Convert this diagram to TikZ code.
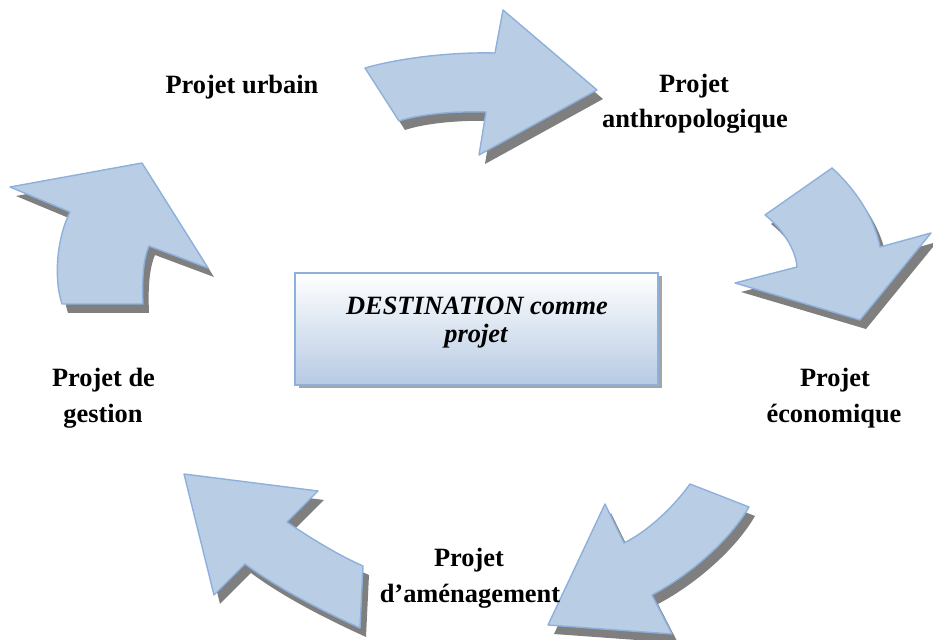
\documentclass[tikz,border=0pt]{standalone}
\usepackage{fontspec}
\setmainfont{Liberation Serif}
\definecolor{arrowfill}{HTML}{B9CDE5}
\definecolor{arrowline}{HTML}{8EB0DC}
\definecolor{shadowgray}{HTML}{7F7F7F}
\definecolor{boxblue}{HTML}{B6CAE3}
\tikzset{
  bigarrow/.style={fill=arrowfill, draw=arrowline, line width=0.7pt, line join=round,
    preaction={fill=shadowgray, transform canvas={xshift=3pt, yshift=-4.5pt}}},
  lbl/.style={anchor=base, inner sep=0pt, font=\fontsize{13.2}{16}\selectfont\bfseries},
  dlbl/.style={anchor=base, inner sep=0pt, font=\fontsize{13.2}{16}\selectfont\bfseries\itshape},
  destbox/.style={rectangle, draw=arrowline, line width=0.6pt, top color=white, bottom color=boxblue,
    minimum width=181.5pt, minimum height=56pt, inner sep=0pt,
    preaction={fill=shadowgray!70, transform canvas={xshift=2pt, yshift=-1.5pt}}}
}
\begin{document}
\begin{tikzpicture}[x=0.5pt, y=-0.5pt]
\useasboundingbox (0,0) rectangle (933,640);

% arrow top (to the right)
\path[bigarrow] (365,68) .. controls (400,58) and (450,52) .. (495,53) -- (503,10) -- (597,90)
  -- (479,155) -- (486,112) .. controls (455,111) and (420,114) .. (399,121) -- cycle;
% arrow right (down-left)
\path[bigarrow] (832,168) .. controls (852,186) and (874,215) .. (880,247) -- (931,233) -- (860,320)
  -- (735,283) -- (797,267) .. controls (796,250) and (782,228) .. (765,215) -- cycle;
% arrow bottom right (down-left)
\path[bigarrow] (690,484) -- (749,507) .. controls (730,540) and (690,575) .. (652,595) -- (672,634)
  -- (548,625) -- (605,504) -- (624,543) .. controls (650,530) and (675,505) .. (690,484) -- cycle;
% arrow bottom left (up-left)
\path[bigarrow] (184,474) -- (318,491) -- (287,522) .. controls (310,538) and (340,556) .. (363,566)
  -- (360,628) .. controls (325,612) and (280,590) .. (245,564) -- (214,595) -- cycle;
% arrow left (up-right)
\path[bigarrow] (10,187) -- (142,163) -- (208,268) -- (149,246) .. controls (143,260) and (142,280) .. (143,304)
  -- (62,304) .. controls (54,280) and (56,240) .. (70,212) -- cycle;

% central box
\node[destbox] (dest) at (476.5,329) {};
\node[dlbl] (destA) at (477,315) {DESTINATION comme};
\node[dlbl] (destB) at (476,343) {projet};

% labels
\node[lbl] (urbain) at (242,94) {Projet urbain};
\node[lbl] (anthroA) at (694,93) {Projet};
\node[lbl] (anthroB) at (695,128) {anthropologique};
\node[lbl] (ecoA) at (835,387) {Projet};
\node[lbl] (ecoB) at (834,423) {économique};
\node[lbl] (gestA) at (103.5,387) {Projet de};
\node[lbl] (gestB) at (103,423) {gestion};
\node[lbl] (amenA) at (469,567) {Projet};
\node[lbl] (amenB) at (470,603) {d’aménagement};
\end{tikzpicture}
\end{document}
